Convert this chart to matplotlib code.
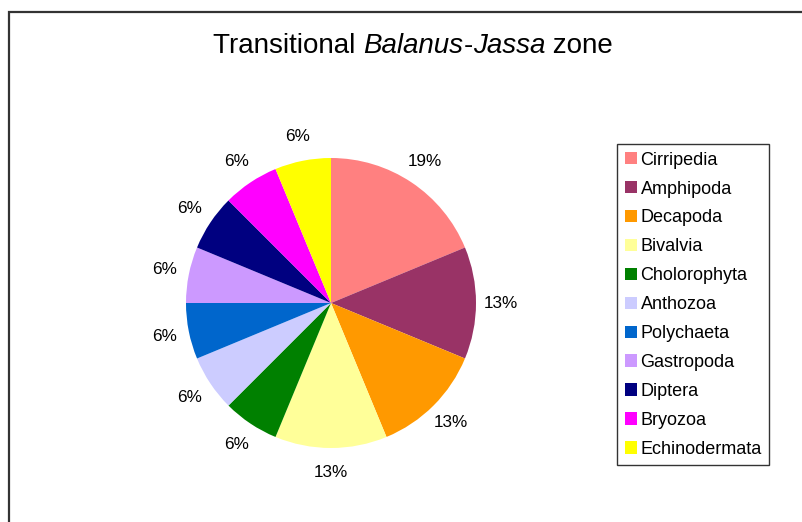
import math
import matplotlib
matplotlib.use("Agg")
import matplotlib.pyplot as plt
from matplotlib.patches import Rectangle

# taxon counts in the transitional zone (16 records)
groups = ["Cirripedia", "Amphipoda", "Decapoda", "Bivalvia", "Cholorophyta",
          "Anthozoa", "Polychaeta", "Gastropoda", "Diptera", "Bryozoa",
          "Echinodermata"]
counts = [3, 2, 2, 2, 1, 1, 1, 1, 1, 1, 1]
colors = ["#FF8080", "#993366", "#FF9900", "#FFFF99", "#008000", "#CCCCFF",
          "#0066CC", "#CC99FF", "#000080", "#FF00FF", "#FFFF00"]

plt.rcParams['font.family'] = ['Liberation Sans', 'DejaVu Sans']

W, H = 803, 522
fig = plt.figure(figsize=(W / 100, H / 100), dpi=100)
fig.patch.set_facecolor("white")

# chart border (right/bottom edges run off the image)
fig.add_artist(Rectangle((9 / W, -0.1), 1.2, 1 - 12 / H + 0.1,
                         transform=fig.transFigure, fill=False,
                         edgecolor="#333333", lw=1.6))

# pie: centre (331, 303) px, radius 145 px
cx, cy, r = 331, 303, 145
ax = fig.add_axes([(cx - r) / W, (H - cy - r) / H, 2 * r / W, 2 * r / H])
wedges, texts, autotexts = ax.pie(
    counts, colors=colors, startangle=90, counterclock=False,
    autopct=lambda p: f"{math.floor(p + 0.5)}%", pctdistance=1.17,
    wedgeprops=dict(linewidth=0), textprops=dict(fontsize=12.3))
ax.set_xlim(-1, 1)
ax.set_ylim(-1, 1)

leg = fig.legend(wedges, groups, loc="upper left",
                 bbox_to_anchor=(617 / W, 1 - 144 / H),
                 fontsize=13, frameon=True, fancybox=False,
                 handlelength=0.68, handleheight=0.68, handletextpad=0.2,
                 labelspacing=0.66, borderpad=0.42, borderaxespad=0)
leg.get_frame().set_edgecolor("black")
leg.get_frame().set_linewidth(1.0)

# title with italic genus names
parts = [("Transitional ", "normal"), ("Balanus", "italic"), ("-", "normal"),
         ("Jassa", "italic"), (" zone", "normal")]
renderer = fig.canvas.get_renderer()
objs = []
for s, st in parts:
    t = fig.text(0, 1 - 46 / H, s, fontsize=20, style=st, va="center", ha="left")
    objs.append(t)
widths = [t.get_window_extent(renderer).width for t in objs]
x = 413 - sum(widths) / 2
for t, w in zip(objs, widths):
    t.set_x(x / W)
    x += w

fig.savefig("out.png", dpi=100)
